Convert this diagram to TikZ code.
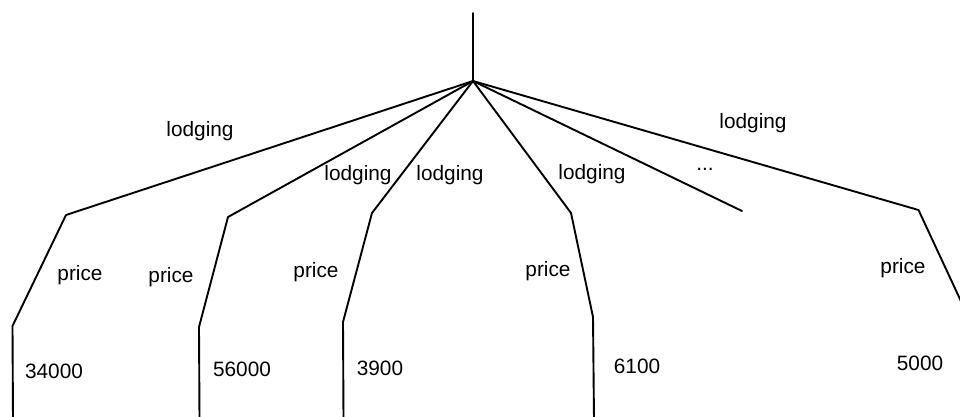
\documentclass[tikz,border=0pt]{standalone}
\usepackage{fontspec}
\setmainfont{Liberation Sans}
\begin{document}
\begin{tikzpicture}[x=1pt,y=-1pt,
  edge/.style={line width=1.9pt,line join=round,line cap=round},
  lbl/.style={inner sep=0pt,font=\fontsize{20.8}{24}\selectfont}]
\useasboundingbox (0,0) rectangle (960,416);
\begin{scope}
\clip (0,0) rectangle (960,416);
% root stem and hub
\coordinate (top) at (473,13);
\coordinate (hub) at (473,81);
% bends of each branch
\coordinate (a1) at (66,215);  \coordinate (a2) at (12.5,326); \coordinate (a3) at (13,420);
\coordinate (b1) at (228,217); \coordinate (b2) at (199,327);  \coordinate (b3) at (199.5,420);
\coordinate (c1) at (372,213); \coordinate (c2) at (343,322);  \coordinate (c3) at (343.5,420);
\coordinate (d1) at (571,213); \coordinate (d2) at (593,317);  \coordinate (d3) at (594,420);
\coordinate (e1) at (742,211);
\coordinate (f1) at (918.5,210); \coordinate (f2) at (966,312); \coordinate (f3) at (966,420);

\draw[edge] (top) -- (hub);
\draw[edge] (hub) -- (a1) -- (a2) -- (a3);
\draw[edge] (hub) -- (b1) -- (b2) -- (b3);
\draw[edge] (hub) -- (c1) -- (c2) -- (c3);
\draw[edge] (hub) -- (d1) -- (d2) -- (d3);
\draw[edge] (hub) -- (e1);
\draw[edge] (hub) -- (f1) -- (f2) -- (f3);
\end{scope}

% edge labels
\node[lbl] (l1) at (200,131) {lodging};
\node[lbl] (l2) at (358,175) {lodging};
\node[lbl] (l3) at (450,175) {lodging};
\node[lbl] (l4) at (592,174) {lodging};
\node[lbl] (l5) at (753,123) {lodging};
\node[lbl,anchor=base] (dots) at (705,170) {...};

\node[lbl] (p1) at (80,275) {price};
\node[lbl] (p2) at (171,277) {price};
\node[lbl] (p3) at (316,272) {price};
\node[lbl] (p4) at (548,271) {price};
\node[lbl] (p5) at (903,268) {price};

\node[lbl] (v1) at (54,371) {34000};
\node[lbl] (v2) at (242,369) {56000};
\node[lbl] (v3) at (380,368) {3900};
\node[lbl] (v4) at (637,366) {6100};
\node[lbl] (v5) at (920,363) {5000};
\end{tikzpicture}
\end{document}
